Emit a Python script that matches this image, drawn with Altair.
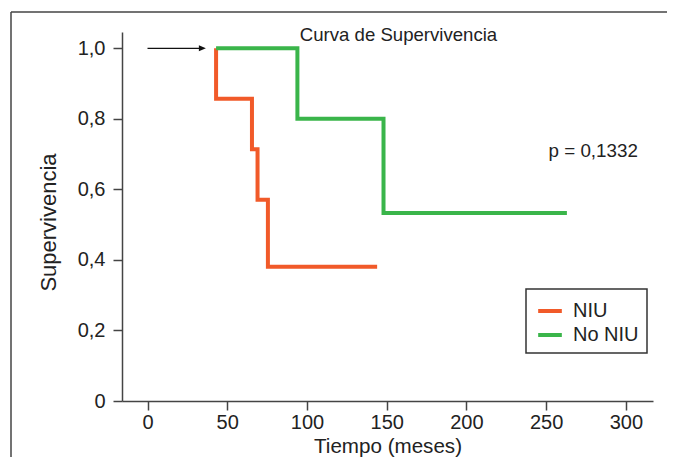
import altair as alt
import pandas as pd

# Kaplan-Meier step data (months, survival)
niu_t = [43, 43, 65.5, 69, 75.5, 144]
niu_s = [1.0, 0.857, 0.714, 0.571, 0.381, 0.381]
no_t = [43, 94, 148, 263]
no_s = [1.0, 0.8, 0.533, 0.533]
groups = ["NIU", "No NIU"]
colors = ["#F15A29", "#3AB54A"]

x_ticks = [0, 50, 100, 150, 200, 250, 300]
y_ticks = [0, 0.2, 0.4, 0.6, 0.8, 1.0]

title_text = "Curva de Supervivencia"
title_pos = [95.5, 1.038]
p_text = "p = 0,1332"
p_pos = [251.5, 0.71]
arrow_x = [0, 34.4]
arrow_y = 1.0

FONT = "Liberation Sans"

rows = []
for i, (t, s) in enumerate(zip(niu_t, niu_s)):
    rows.append({"t": t, "s": s, "g": groups[0], "o": i})
for i, (t, s) in enumerate(zip(no_t, no_s)):
    rows.append({"t": t, "s": s, "g": groups[1], "o": i})
km = pd.DataFrame(rows)

xs = alt.Scale(domain=[-16, 317], nice=False, zero=False)
ys = alt.Scale(domain=[0, 1.0463], nice=False, zero=False)

lines = alt.Chart(km).mark_line(interpolate="step-after", strokeWidth=4, strokeCap="butt", strokeJoin="miter").encode(
    x=alt.X("t:Q", scale=xs, title="Tiempo (meses)",
            axis=alt.Axis(values=x_ticks, grid=False, labelFontSize=20, titleFontSize=20.6,
                          tickSize=9, labelPadding=2, titleY=51, titleBaseline="alphabetic")),
    y=alt.Y("s:Q", scale=ys, title="Supervivencia",
            axis=alt.Axis(values=y_ticks, grid=False, labelFontSize=20, titleFontSize=22,
                          tickSize=9, labelPadding=8, titleX=-67, titleY=190,
                          titleBaseline="alphabetic", titleAlign="center", titleAngle=270,
                          labelExpr="datum.value == 0 ? '0' : replace(format(datum.value, '.1f'), '.', ',')")),
    color=alt.Color("g:N", scale=alt.Scale(domain=groups, range=colors),
                    legend=alt.Legend(title=None, orient="none", legendX=404, legendY=257,
                                      symbolType="stroke", symbolSize=560, symbolStrokeWidth=4,
                                      labelFontSize=20, labelFont=FONT, labelColor="#222",
                                      padding=8, rowPadding=-3, labelOffset=9,
                                      strokeColor="#333", symbolOffset=2)),
    order=alt.Order("o:Q"),
)

arrow_df = pd.DataFrame({"x": [arrow_x[0]], "x2": [arrow_x[1]], "y": [arrow_y]})
arrow_line = alt.Chart(arrow_df).mark_rule(color="#111", strokeWidth=1.3).encode(
    x=alt.X("x:Q", scale=xs), x2="x2:Q", y=alt.Y("y:Q", scale=ys))
arrow_head = alt.Chart(arrow_df).mark_point(
    shape="M-1,-0.85L1,0L-1,0.85Z", filled=True, color="#111", size=49, opacity=1).encode(
    x=alt.X("x2:Q", scale=xs), y=alt.Y("y:Q", scale=ys))

title_df = pd.DataFrame({"x": [title_pos[0]], "y": [title_pos[1]], "label": [title_text]})
title_mark = alt.Chart(title_df).mark_text(align="left", baseline="middle", fontSize=18.6, font=FONT, color="#222").encode(
    x=alt.X("x:Q", scale=xs), y=alt.Y("y:Q", scale=ys), text="label:N")

p_df = pd.DataFrame({"x": [p_pos[0]], "y": [p_pos[1]], "label": [p_text]})
p_mark = alt.Chart(p_df).mark_text(align="left", baseline="middle", fontSize=18.8, font=FONT, color="#222").encode(
    x=alt.X("x:Q", scale=xs), y=alt.Y("y:Q", scale=ys), text="label:N")

frame_top = alt.Chart(pd.DataFrame({"a": [0]})).mark_rule(color="#444", strokeWidth=1.5).encode(
    x=alt.value(-111), x2=alt.value(545), y=alt.value(-20))
frame_left = alt.Chart(pd.DataFrame({"a": [0]})).mark_rule(color="#444", strokeWidth=1.5).encode(
    x=alt.value(-111), y=alt.value(-20), y2=alt.value(425))

chart = alt.layer(frame_top, frame_left, lines, arrow_line, arrow_head, title_mark, p_mark).properties(
    width=531, height=369,
    autosize=alt.AutoSizeParams(type="none"),
    padding={"left": 114, "top": 24, "right": 14, "bottom": 56},
).configure_view(stroke=None).configure_axis(
    domainColor="#444", tickColor="#444", domainWidth=1.5, tickWidth=1.5,
    labelFont=FONT, titleFont=FONT, labelColor="#222", titleColor="#222",
    titleFontWeight="normal",
).configure_legend(strokeWidth=1.5)

chart.save("out.html", embed_options={"renderer": "svg", "actions": False})
